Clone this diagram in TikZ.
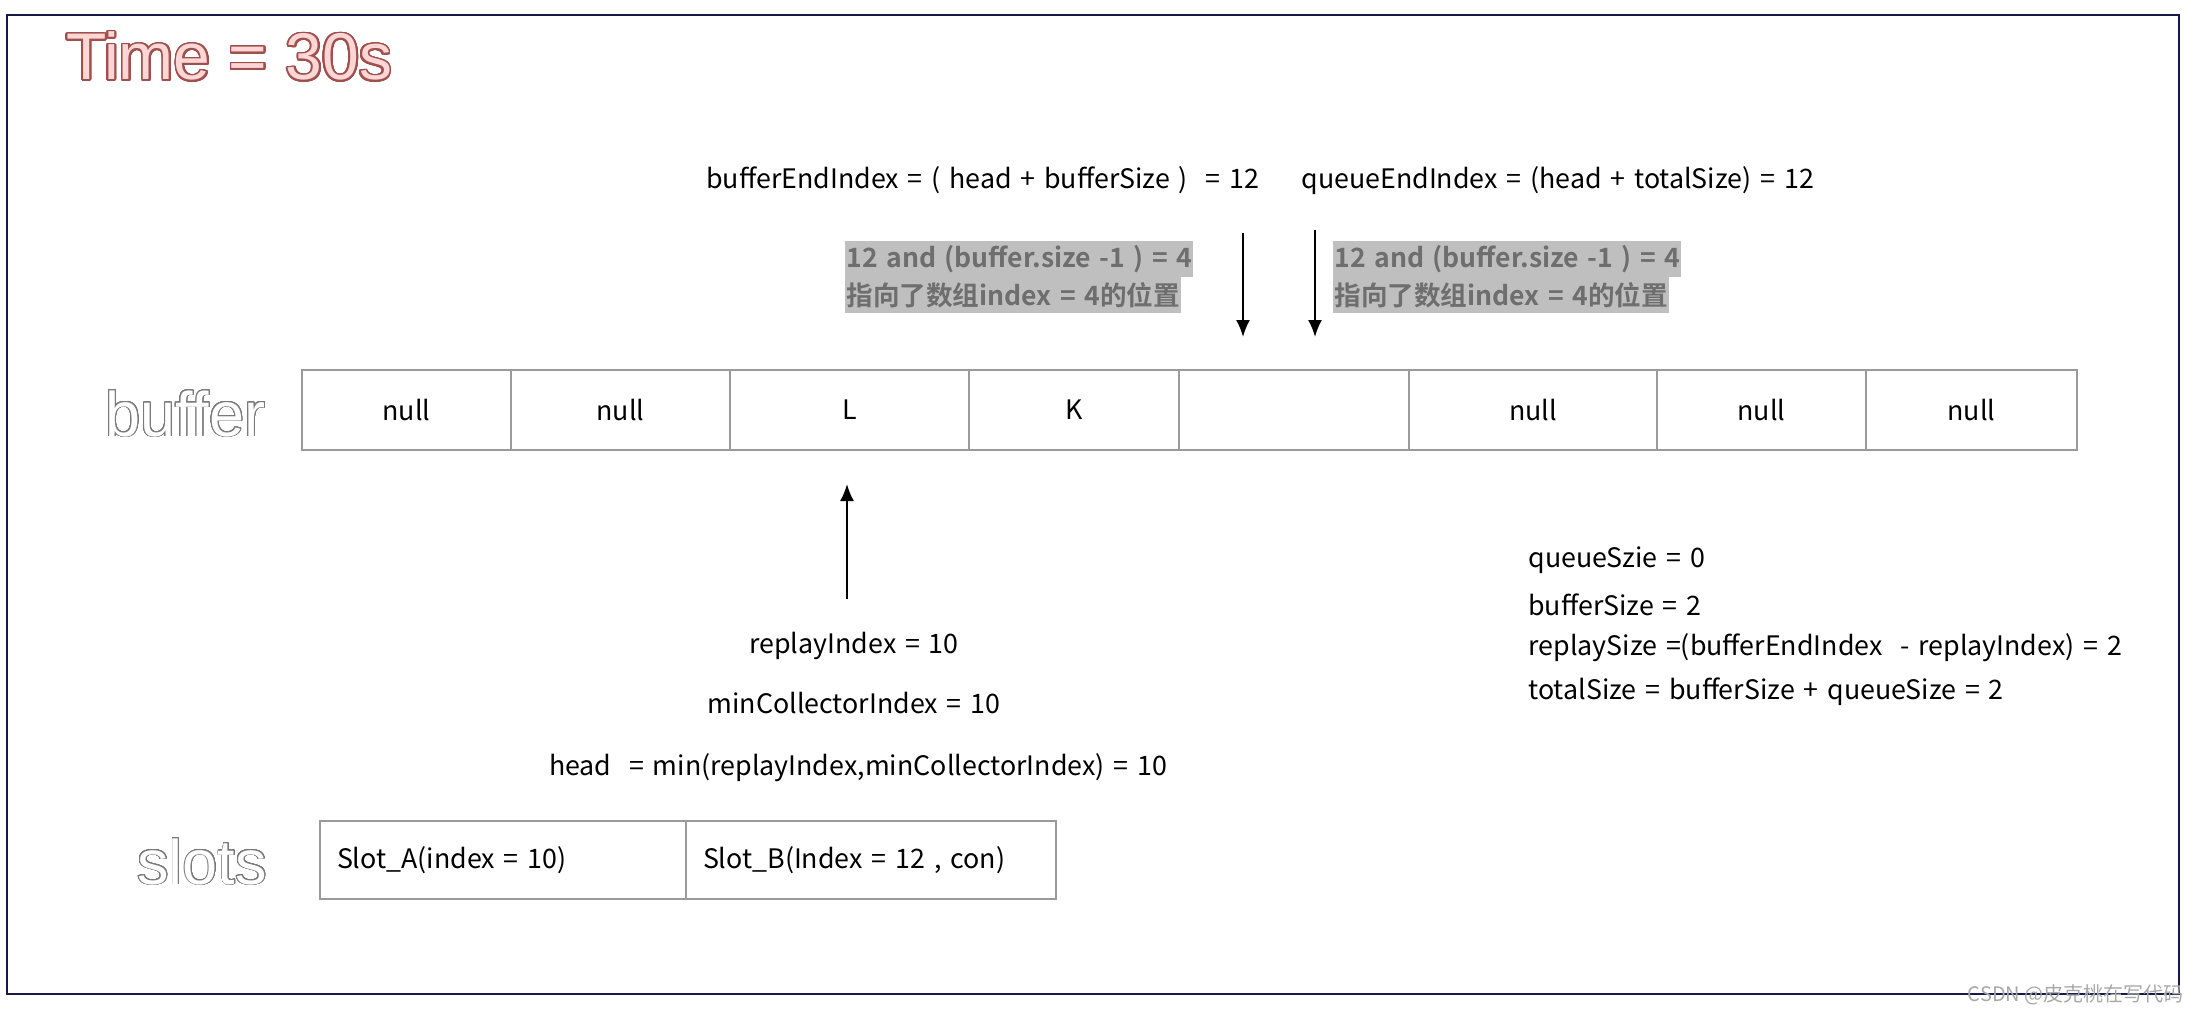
\documentclass[tikz,border=0pt]{standalone}
\usepackage{fontspec}
\setmainfont{Noto Sans CJK SC}[BoldFont={Noto Sans CJK SC Bold}]
\newfontfamily\arialf{Liberation Sans}
\usepackage[copies]{contour}
\contournumber{32}
\usetikzlibrary{arrows.meta}
\definecolor{framec}{HTML}{151B45}
\definecolor{titlefill}{HTML}{FFD6D6}
\definecolor{titlestroke}{HTML}{A0504C}
\definecolor{cellc}{HTML}{9A9A9A}
\definecolor{hlbg}{HTML}{BFBFBF}
\definecolor{hltext}{HTML}{6E6E6E}
\definecolor{outlinec}{HTML}{7A7A7A}
\definecolor{wmc}{HTML}{A8A8A8}
\newcommand{\bodyfont}{\fontsize{13.4}{15}\selectfont\spaceskip=0.33em plus 0.1em\relax}
\newcommand{\hlfont}{\fontsize{13.3}{15}\selectfont\bfseries\spaceskip=0.32em plus 0.1em\relax}
\tikzset{
  cell/.style={draw=cellc, line width=0.8pt, minimum height=40pt, inner sep=0pt, outer sep=0pt, font=\bodyfont},
  slotbox/.style={draw=cellc, line width=0.8pt, minimum height=39pt, inner xsep=8.5pt, inner ysep=0pt, outer sep=0pt, text width=166pt, align=left, font=\bodyfont},
  txt/.style={inner sep=0pt, font=\bodyfont, yshift=-1.3pt},
  hl/.style={fill=hlbg, text=hltext, inner xsep=0.5pt, inner ysep=0pt, minimum height=18pt, anchor=west, font=\hlfont},
  arr/.style={line width=1pt, -{Latex[length=8.5pt,width=7pt]}},
  bigout/.style={inner sep=0pt, anchor=base west, font=\arialf\fontsize{31.5}{34}\selectfont},
}
\begin{document}
\begin{tikzpicture}[x=0.5pt,y=-0.5pt]
\useasboundingbox (0,0) rectangle (2200,1016);
\fill[white] (0,0) rectangle (2200,1016);
\draw[framec, line width=1pt] (7,15) rectangle (2179,994);

% title
\node[inner sep=0pt, anchor=base west, font=\arialf\fontsize{33}{36}\selectfont] (title) at (66,80)
  {\contourlength{0.9pt}\contour{titlestroke}{\textcolor{titlefill}{Time = 30s}}};

% top formulas
\node[txt, anchor=west] (bend) at (706,178) {bufferEndIndex = ( head + bufferSize )~~= 12};
\node[txt, anchor=west] (qend) at (1301,178) {queueEndIndex = (head + totalSize) = 12};

% highlighted notes
\node[hl] (h1a) at (845,259) {12 and (buffer.size -1 ) = 4};
\node[hl] (h1b) at (845,295) {指向了数组index = 4的位置};
\node[hl] (h2a) at (1333,259) {12 and (buffer.size -1 ) = 4};
\node[hl] (h2b) at (1333,295) {指向了数组index = 4的位置};

% arrows down
\coordinate (a1s) at (1243,233);
\coordinate (a1e) at (1243,337);
\coordinate (a2s) at (1315,230);
\coordinate (a2e) at (1315,337);
\draw[arr] (a1s) -- (a1e);
\draw[arr] (a2s) -- (a2e);

% buffer label
\node[bigout] (buflabel) at (105,436)
  {\contourlength{0.45pt}\contour{outlinec}{\textcolor{white}{buffer}}};

% buffer cells
\node[cell, minimum width=104.5pt] (c0) at (406.5,410) {null};
\node[cell, minimum width=109.5pt] (c1) at (620.5,410) {null};
\node[cell, minimum width=119.5pt] (c2) at (849.5,410) {L};
\node[cell, minimum width=105pt]   (c3) at (1074,410) {K};
\node[cell, minimum width=115pt]   (c4) at (1294,410) {};
\node[cell, minimum width=124pt]   (c5) at (1533,410) {null};
\node[cell, minimum width=104.5pt] (c6) at (1761.5,410) {null};
\node[cell, minimum width=105.5pt] (c7) at (1971.5,410) {null};

% up arrow
\coordinate (ups) at (847,599);
\coordinate (upe) at (847,484);
\draw[arr] (ups) -- (upe);

% lower formulas
\node[txt] (rep) at (854,643) {replayIndex = 10};
\node[txt] (minc) at (854,700) {minCollectorIndex = 10};
\node[txt] (head) at (858,765) {head~~= min(replayIndex,minCollectorIndex) = 10};

% right block
\node[txt, anchor=west] (r1) at (1528,558) {queueSzie = 0};
\node[txt, anchor=west] (r2) at (1528,602) {bufferSize = 2};
\node[txt, anchor=west] (r3) at (1528,645) {replaySize =(bufferEndIndex~~- replayIndex) = 2};
\node[txt, anchor=west] (r4) at (1528,689) {totalSize = bufferSize + queueSize = 2};

% slots label
\node[bigout] (slotlabel) at (137,884)
  {\contourlength{0.45pt}\contour{outlinec}{\textcolor{white}{slots}}};

% slots
\node[slotbox] (sa) at (503,860) {\raisebox{-1.5pt}{Slot\_A(index = 10)}};
\node[slotbox, text width=168pt] (sb) at (871,860) {\raisebox{-1.5pt}{Slot\_B(Index = 12 , con)}};

% watermark
\node[inner sep=0pt, anchor=east, text=wmc, font=\fontsize{10}{12}\selectfont] (wm) at (2184,995) {CSDN @皮克桃在写代码};
\end{tikzpicture}
\end{document}
